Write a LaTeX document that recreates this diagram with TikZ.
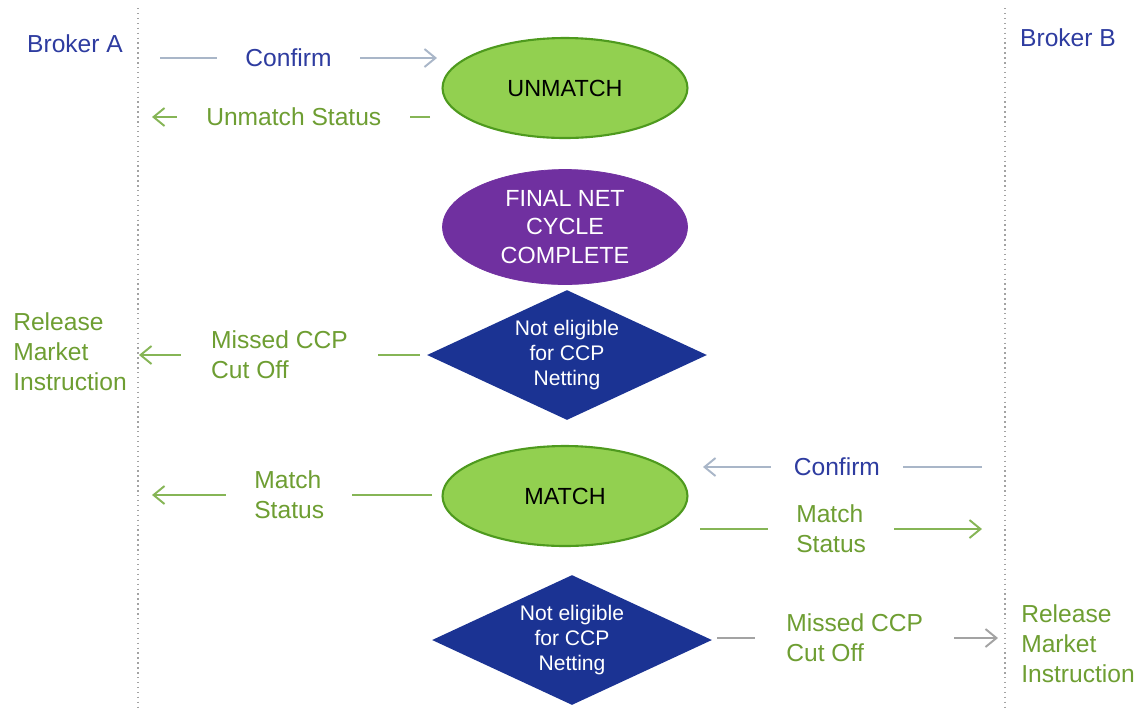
\documentclass[tikz,border=0pt]{standalone}
\usepackage{fontspec}
\setmainfont{Liberation Sans}
\usetikzlibrary{shapes.geometric,arrows.meta}

\definecolor{bluetxt}{HTML}{2E3CA0}
\definecolor{greentxt}{HTML}{6E9E32}
\definecolor{greenline}{HTML}{86B556}
\definecolor{confline}{HTML}{A9B6C8}
\definecolor{grayline}{HTML}{A3A3A3}
\definecolor{okfill}{HTML}{92D050}
\definecolor{okdraw}{HTML}{4E9A1E}
\definecolor{cyclefill}{HTML}{7030A0}
\definecolor{navyfill}{HTML}{1B3393}

\begin{document}
\begin{tikzpicture}[x=0.02cm,y=-0.02cm,
  every node/.style={font=\fontsize{14}{17}\selectfont},
  party/.style={text=bluetxt},
  state/.style={ellipse,draw=okdraw,line width=1.2pt,fill=okfill,minimum width=4.9cm,minimum height=2cm,align=center,font=\fontsize{13.3}{16.2}\selectfont},
  cycle/.style={ellipse,draw=cyclefill,fill=cyclefill,text=white,minimum width=4.9cm,minimum height=2.3cm,inner sep=0pt,align=center,font=\fontsize{13.3}{16.2}\selectfont},
  noelig/.style={diamond,shape aspect=2.17,fill=navyfill,text=white,minimum width=5.6cm,minimum height=2.6cm,inner sep=0pt,align=center,font=\fontsize{12}{14}\selectfont},
  lbl/.style={fill=white,align=left,inner xsep=0.56cm,inner ysep=1pt},
  tip/.style={-{Straight Barb[length=2.2mm,width=3.6mm]}},
  conf/.style={draw=confline,line width=1.1pt},
  stat/.style={draw=greenline,line width=1.1pt},
  miss/.style={draw=grayline,line width=1.1pt},
  lane/.style={draw=grayline,dotted,line width=0.8pt}]
\useasboundingbox (0,0) rectangle (1139,708);
% broker lanes
\draw[lane] (138,8) -- (138,708);
\draw[lane] (1005,8) -- (1005,708);
\node[party] (brokerA) at (75,44) {Broker A};
\node[party] (brokerB) at (1068,38) {Broker B};
% states
\node[state] (unmatch) at (565,88) {UNMATCH};
\node[cycle] (netcycle) at (565,227) {FINAL NET\\CYCLE\\COMPLETE};
\node[noelig] (noeligA) at (567,355) {Not eligible\\for CCP\\Netting};
\node[state] (match) at (565,496) {MATCH};
\node[noelig] (noeligB) at (572,640) {Not eligible\\for CCP\\Netting};
% outcomes
\node[text=greentxt,align=left,font=\fontsize{14}{17}\selectfont] (releaseA) at (70,352) {Release\\Market\\Instruction};
\node[text=greentxt,align=left,font=\fontsize{14}{17}\selectfont] (releaseB) at (1078,644) {Release\\Market\\Instruction};
% connector ends
\coordinate (confA) at (160,58);
\coordinate (confU) at (437,58);
\coordinate (statU) at (430,117);
\coordinate (statA) at (152,117);
\coordinate (missA0) at (420,355);
\coordinate (missA) at (139,355);
\coordinate (matchA0) at (432,495);
\coordinate (matchA) at (152,495);
\coordinate (confB) at (982,467);
\coordinate (confM) at (703,467);
\coordinate (matchB0) at (700,529);
\coordinate (matchB) at (982,529);
\coordinate (missB0) at (717,638);
\coordinate (missB) at (998,638);
% messages
\draw[conf,tip] (confA) -- node[lbl,pos=0.464,text=bluetxt]{Confirm} (confU);
\draw[stat,tip] (statU) -- node[lbl,pos=0.49,text=greentxt,inner xsep=0.58cm]{Unmatch Status} (statA);
\draw[stat,tip] (missA0) -- node[lbl,pos=0.5,text=greentxt,inner xsep=0.6cm]{Missed CCP\\Cut Off} (missA);
\draw[stat,tip] (matchA0) -- node[lbl,pos=0.51,text=greentxt]{Match\\Status} (matchA);
\draw[conf,tip] (confB) -- node[lbl,pos=0.52,text=bluetxt,inner xsep=0.46cm]{Confirm} (confM);
\draw[stat,tip] (matchB0) -- node[lbl,pos=0.465,text=greentxt]{Match\\Status} (matchB);
\draw[miss,tip] (missB0) -- node[lbl,pos=0.49,text=greentxt,inner xsep=0.62cm]{Missed CCP\\Cut Off} (missB);
\end{tikzpicture}
\end{document}
